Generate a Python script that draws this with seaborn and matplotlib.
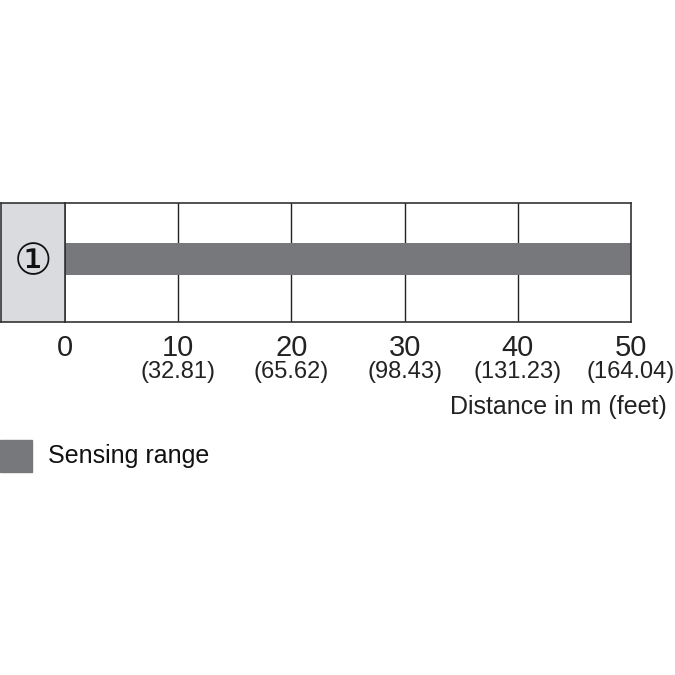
import matplotlib
matplotlib.use("Agg")
import matplotlib.pyplot as plt
import matplotlib.patches as mpatches
import matplotlib.transforms as mtransforms
import seaborn as sns
import pandas as pd

sns.set_style("white")
plt.rcParams['font.family'] = ['Liberation Sans', 'DejaVu Sans']

categories = ["①"]
ranges_m = [50]
tick_m = [0, 10, 20, 30, 40, 50]
tick_ft = ["", "(32.81)", "(65.62)", "(98.43)", "(131.23)", "(164.04)"]
xlabel = "Distance in m (feet)"
legend_label = "Sensing range"

bar_color = "#77787c"
label_bg = "#d9dbde"
edge = "#333333"

W = H = 675
fig = plt.figure(figsize=(6.75, 6.75), dpi=100)

def fx(px): return px / W
def fy(py): return 1 - py / H

ax_top, ax_bot = 203, 322
ax = fig.add_axes([fx(65), fy(ax_bot), fx(631) - fx(65), (ax_bot - ax_top) / H])
df = pd.DataFrame({"cat": categories, "range": ranges_m})
sns.barplot(data=df, x="range", y="cat", orient="h", color=bar_color,
            width=0.27, saturation=1, ax=ax, edgecolor="none")
ax.set_xlim(0, 50)
ax.set_ylim(0.53, -0.47)
ax.set_yticks([])
ax.set_ylabel("")
ax.set_xlabel("")
for v in tick_m[1:-1]:
    ax.axvline(v, color="#222222", lw=1.0, zorder=0)
for s in ax.spines.values():
    s.set_color(edge)
    s.set_linewidth(1.2)
ax.set_xticks(tick_m)
ax.set_xticklabels([str(t) for t in tick_m], fontsize=21)
ax.tick_params(axis="x", length=0, pad=9, colors="#222222")
trans = mtransforms.blended_transform_factory(ax.transData, fig.transFigure)
for v, ft in zip(tick_m, tick_ft):
    if ft:
        ax.text(v, fy(372), ft, transform=trans, ha="center", va="center",
                fontsize=17, color="#222222")
fig.text(fx(667), fy(407), xlabel, ha="right", va="center", fontsize=18, color="#222222")

# category label box
lab = fig.add_axes([fx(1), fy(ax_bot), fx(65) - fx(1), (ax_bot - ax_top) / H])
lab.set_facecolor(label_bg)
lab.set_xticks([]); lab.set_yticks([])
for s in lab.spines.values():
    s.set_color(edge)
    s.set_linewidth(1.2)
lab.text(0.5, 0.5, categories[0], ha="center", va="center", fontsize=31,
         color="#111111", family=["DejaVu Sans"], transform=lab.transAxes)

# legend
fig.patches.append(mpatches.Rectangle((fx(0), fy(472)), fx(32), 32 / H,
                                      transform=fig.transFigure, color=bar_color))
fig.text(fx(48), fy(456), legend_label, ha="left", va="center", fontsize=18, color="#111111")

fig.savefig("out.png", dpi=100)
